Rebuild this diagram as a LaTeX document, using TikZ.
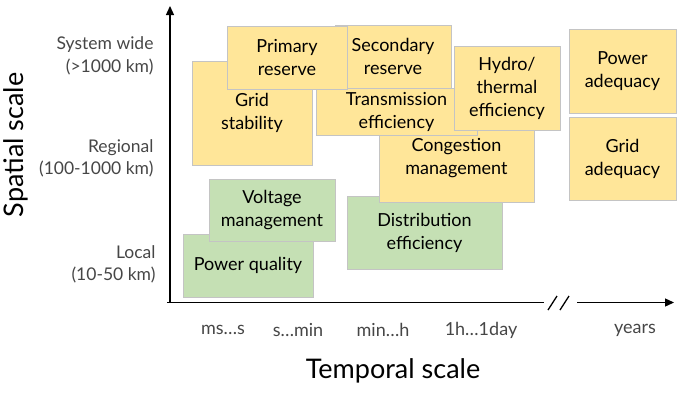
\documentclass[tikz,border=0pt]{standalone}
\usepackage{fontspec}
\setmainfont{Lato}
\usetikzlibrary{arrows.meta,positioning}
\definecolor{gold}{RGB}{255,230,153}
\definecolor{sage}{RGB}{197,224,180}
\definecolor{edge}{RGB}{196,196,196}
\definecolor{axisgray}{RGB}{70,70,70}

\begin{document}
\begin{tikzpicture}[x=1pt,y=-1pt,
  task/.style={draw=edge,line width=0.8pt,align=center,inner sep=0pt,
    font=\fontsize{18}{23}\selectfont},
  yellowbox/.style={task,fill=gold},
  greenbox/.style={task,fill=sage},
  scalelbl/.style={anchor=east,align=right,text=axisgray,
    font=\fontsize{17.5}{22.5}\selectfont},
  ticklbl/.style={text=axisgray,font=\fontsize{18}{20}\selectfont},
  axistitle/.style={font=\fontsize{27}{30}\selectfont},
  axisline/.style={line width=1.3pt}]
  \useasboundingbox (0,0) rectangle (685,394);

  % boxes, back to front
  \node[greenbox,minimum width=130,minimum height=63] (powerq) at (248,265.5) {Power quality};
  \node[greenbox,minimum width=126,minimum height=62] (voltmgmt) at (272,210) {Voltage\\management};
  \node[greenbox,minimum width=155,minimum height=73] (disteff) at (424.5,232.5) {Distribution\\efficiency};
  \node[yellowbox,minimum width=155,minimum height=88] (conmgmt) at (456.5,158) {Congestion\\management};
  \node[yellowbox,minimum width=161,minimum height=47] (transeff) at (396.5,111.5) {Transmission\\efficiency};
  \node[yellowbox,minimum width=120,minimum height=104] (gridstab) at (252,113) {Grid\\stability};
  \node[yellowbox,minimum width=116,minimum height=63] (secres) at (393,56.5) {Secondary\\reserve};
  \node[yellowbox,minimum width=120,minimum height=63] (primres) at (287,57.5) {Primary\\reserve};
  \node[yellowbox,minimum width=106,minimum height=84] (hydro) at (507,88) {Hydro/\\thermal\\efficiency};
  \node[yellowbox,minimum width=107,minimum height=84] (poweradeq) at (622.5,71) {Power\\adequacy};
  \node[yellowbox,minimum width=107,minimum height=83] (gridadeq) at (622.5,158.5) {Grid\\adequacy};

  % axes
  \coordinate (origin) at (167,302.5);
  \coordinate (ybase) at (170,302.5);
  \coordinate (ytop) at (170,6);
  \coordinate (brkl) at (544,302.5);
  \coordinate (brkr) at (577,302.5);
  \coordinate (xtip) at (674,302.5);
  \draw[axisline,-{Triangle[length=9pt,width=8pt]}] (ybase) -- (ytop);
  \draw[axisline] (origin) -- (brkl);
  \draw[axisline,-{Triangle[length=9pt,width=8pt]}] (brkr) -- (xtip);
  \coordinate (s1a) at (548,310);
  \coordinate (s1b) at (557,296);
  \coordinate (s2a) at (560,310);
  \coordinate (s2b) at (569,296);
  \draw[axisline] (s1a) -- (s1b);
  \draw[axisline] (s2a) -- (s2b);

  % spatial labels
  \node[scalelbl] (syswide) at (157,56) {System wide\\(>1000 km)};
  \node[scalelbl] (regional) at (157,158.5) {Regional\\(100-1000 km)};
  \node[scalelbl] (local) at (159,264.5) {Local\\(10-50 km)};

  % temporal labels
  \node[ticklbl] (tms) at (223,330) {ms…s};
  \node[ticklbl] (tmin) at (298,330) {s…min};
  \node[ticklbl] (th) at (383,330) {min…h};
  \node[ticklbl] (tday) at (481,330) {1h…1day};
  \node[ticklbl] (tyr) at (635,330) {years};

  \node[axistitle] (temporal) at (393,371) {Temporal scale};
  \node[axistitle,rotate=90] (spatial) at (16,145) {Spatial scale};
\end{tikzpicture}
\end{document}
